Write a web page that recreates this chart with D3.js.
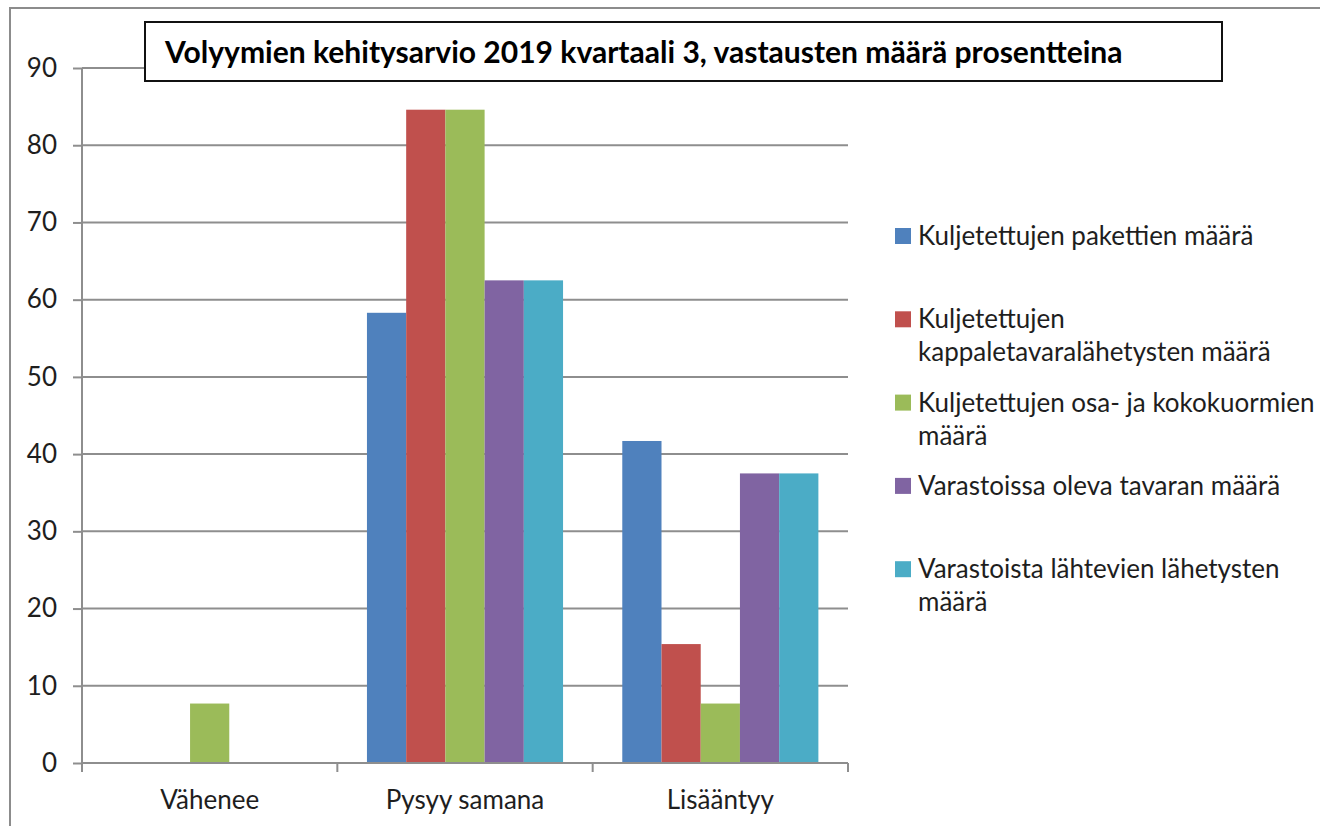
<!DOCTYPE html>
<html>
<head>
<meta charset="utf-8">
<script src="https://cdn.jsdelivr.net/npm/d3@7"></script>
<style>
  body { margin: 0; background: #fff; }
  svg { display: block; font-family: Lato, "Open Sans", sans-serif; }
  .lbl { fill: #1e1e1e; font-size: 26px; }
  .ylbl { fill: #1e1e1e; font-size: 26px; }
</style>
</head>
<body>
<svg id="chart" width="1320" height="826"></svg>
<script>
// data (percent of answers)
const categories = ["Vähenee", "Pysyy samana", "Lisääntyy"];
const seriesNames = [
  "Kuljetettujen pakettien määrä",
  "Kuljetettujen kappaletavaralähetysten määrä",
  "Kuljetettujen osa- ja kokokuormien määrä",
  "Varastoissa oleva tavaran määrä",
  "Varastoista lähtevien lähetysten määrä"
];
// legend lines as they wrap in the original
const legendLines = [
  ["Kuljetettujen pakettien määrä"],
  ["Kuljetettujen", "kappaletavaralähetysten määrä"],
  ["Kuljetettujen osa- ja kokokuormien", "määrä"],
  ["Varastoissa oleva tavaran määrä"],
  ["Varastoista lähtevien lähetysten", "määrä"]
];
const paketit = [0, 58.3, 41.7];
const kappaletavara = [0, 84.6, 15.4];
const kuormat = [7.7, 84.6, 7.7];
const varastossa = [0, 62.5, 37.5];
const lahtevat = [0, 62.5, 37.5];
const yTicks = [0, 10, 20, 30, 40, 50, 60, 70, 80, 90];
const colors = ["#4f81bd", "#c0504d", "#9bbb59", "#8064a2", "#4bacc6"];
const title = "Volyymien kehitysarvio 2019 kvartaali 3, vastausten määrä prosentteina";

const values = [paketit, kappaletavara, kuormat, varastossa, lahtevat];

let svg = d3.select("#chart");

// outer chart border (only top and left edges show in the crop)
svg.append("rect")
  .attr("x", 10).attr("y", 8)
  .attr("width", 1400).attr("height", 900)
  .attr("fill", "none").attr("stroke", "#8c8c8c").attr("stroke-width", 2);

// scales
let y = d3.scaleLinear().domain([0, 90]).range([763, 68]);
let x0 = d3.scaleBand().domain(categories).range([82, 848]);
let gap = x0.bandwidth() * 0.116;
let x1 = d3.scaleBand().domain(d3.range(seriesNames.length)).range([gap, x0.bandwidth() - gap]);

// gridlines
svg.append("g").selectAll("line")
  .data(yTicks.filter(d => d > 0))
  .join("line")
  .attr("x1", 82).attr("x2", 848)
  .attr("y1", d => y(d)).attr("y2", d => y(d))
  .attr("stroke", "#8e8e8e").attr("stroke-width", 2);

// bars
let groups = svg.append("g").selectAll("g")
  .data(categories)
  .join("g")
  .attr("transform", d => `translate(${x0(d)},0)`);

groups.selectAll("rect")
  .data((c, ci) => values.map((v, si) => ({ s: si, v: v[ci] })))
  .join("rect")
  .attr("x", d => x1(d.s))
  .attr("width", x1.bandwidth())
  .attr("y", d => y(d.v))
  .attr("height", d => y(0) - y(d.v))
  .attr("fill", d => colors[d.s]);

// y axis
let yAxis = svg.append("g")
  .attr("transform", "translate(82,0)")
  .call(d3.axisLeft(y).tickValues(yTicks).tickSize(9).tickPadding(16).tickFormat(d3.format("d")))
  .attr("font-family", null).attr("font-size", null);
yAxis.select(".domain").attr("stroke", "#8e8e8e").attr("stroke-width", 2).attr("d", "M0,68V763");
yAxis.selectAll(".tick line").attr("stroke", "#8e8e8e").attr("stroke-width", 2);
yAxis.selectAll(".tick text").attr("class", "ylbl").attr("fill", null);

// x axis
let xAxis = svg.append("g").attr("transform", "translate(0,763)");
xAxis.append("line").attr("x1", 82).attr("x2", 848)
  .attr("stroke", "#8e8e8e").attr("stroke-width", 2);
xAxis.selectAll(".sep")
  .data(categories.map(c => x0(c)).concat([848]))
  .join("line")
  .attr("x1", d => d).attr("x2", d => d)
  .attr("y1", 0).attr("y2", 9)
  .attr("stroke", "#8e8e8e").attr("stroke-width", 2);
xAxis.selectAll("text")
  .data(categories)
  .join("text")
  .attr("class", "lbl")
  .attr("x", d => x0(d) + x0.bandwidth() / 2)
  .attr("y", 37)
  .attr("dy", "0.35em")
  .attr("text-anchor", "middle")
  .text(d => d);

// title box
svg.append("rect")
  .attr("x", 145).attr("y", 22).attr("width", 1077).attr("height", 59)
  .attr("fill", "#fff").attr("stroke", "#111").attr("stroke-width", 2);
let t = svg.append("text")
  .attr("x", 165).attr("y", 52).attr("dy", "0.35em")
  .attr("font-weight", "bold").attr("font-size", 26).attr("fill", "#000")
  .text(title);
// scale the title so it spans the same width as the original
let tw = t.node().getComputedTextLength();
t.attr("font-size", 26 * 958 / tw);

// legend
let legend = svg.append("g").selectAll("g")
  .data(seriesNames)
  .join("g")
  .attr("transform", (d, i) => `translate(895,${236 + i * 83.3})`);
legend.append("rect")
  .attr("x", 0).attr("y", -8).attr("width", 16).attr("height", 16)
  .attr("fill", (d, i) => colors[i]);
legend.each(function (d, i) {
  d3.select(this).selectAll("text")
    .data(legendLines[i])
    .join("text")
    .attr("class", "lbl")
    .attr("x", 23)
    .attr("y", (l, j) => j * 33)
    .attr("dy", "0.35em")
    .text(l => l);
});
</script>
</body>
</html>
